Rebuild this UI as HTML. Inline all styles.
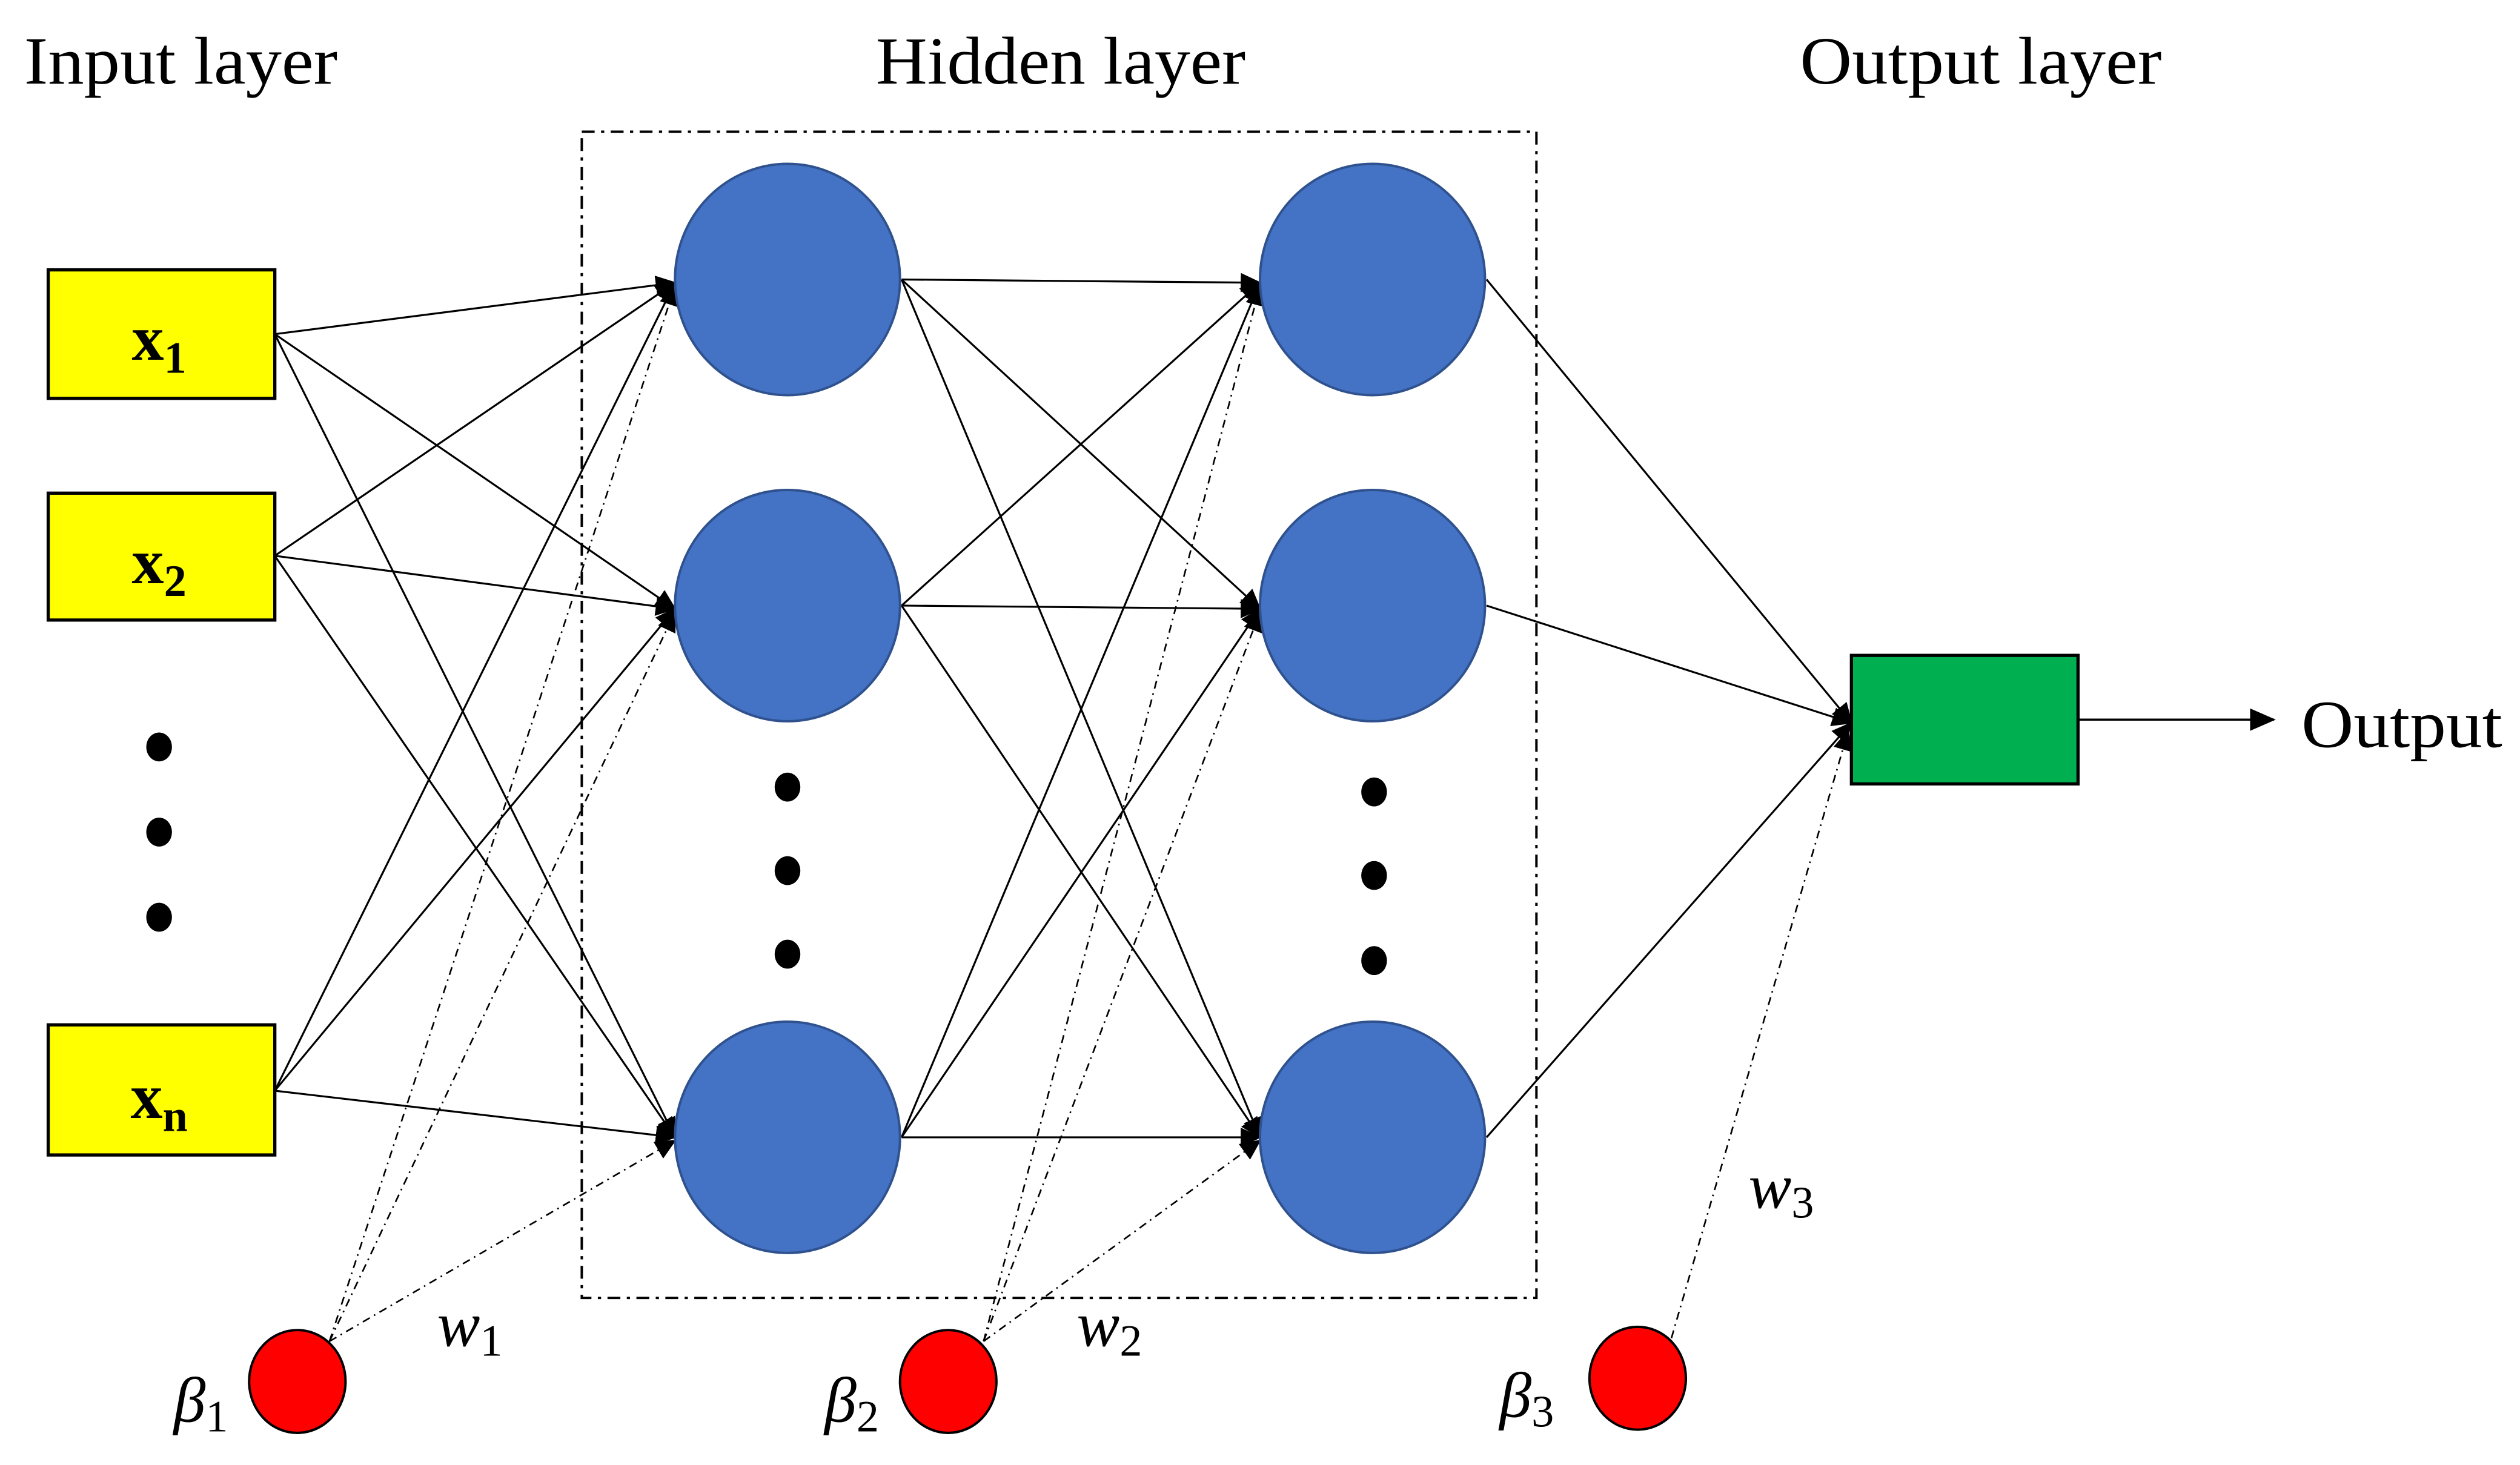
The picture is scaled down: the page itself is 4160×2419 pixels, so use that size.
<!DOCTYPE html>
<html><head><meta charset="utf-8"><style>
html,body{margin:0;padding:0;background:#fff;}
svg{display:block;}
text{font-family:"Liberation Serif",serif;}
</style></head><body>
<svg width="4160" height="2419" viewBox="0 0 1568 912" preserveAspectRatio="none" xmlns="http://www.w3.org/2000/svg">
<defs>
<marker id="a" markerWidth="13" markerHeight="12" refX="12" refY="6" orient="auto" markerUnits="userSpaceOnUse">
<path d="M0,0 L13,6 L0,12 z" fill="#000"/>
</marker>
<marker id="b" markerWidth="16" markerHeight="14" refX="15" refY="7" orient="auto" markerUnits="userSpaceOnUse">
<path d="M0,0 L16,7 L0,14 z" fill="#000"/>
</marker>
</defs>
<rect width="1568" height="912" fill="#fff"/>
<text x="15" y="52" font-size="42" textLength="195" lengthAdjust="spacingAndGlyphs">Input layer</text>
<text x="545" y="52" font-size="42" textLength="230" lengthAdjust="spacingAndGlyphs">Hidden layer</text>
<text x="1120" y="52" font-size="42" textLength="225" lengthAdjust="spacingAndGlyphs">Output layer</text>
<rect x="362" y="82" width="594" height="726" fill="none" stroke="#000" stroke-width="1.5" stroke-dasharray="8,4,2,4"/>
<g stroke="#000" stroke-width="1.2" fill="none" marker-end="url(#a)">
<line x1="171" y1="208" x2="420" y2="176"/>
<line x1="171" y1="208" x2="420" y2="379"/>
<line x1="171" y1="208" x2="420" y2="708"/>
<line x1="171" y1="346" x2="420" y2="176"/>
<line x1="171" y1="346" x2="420" y2="379"/>
<line x1="171" y1="346" x2="420" y2="708"/>
<line x1="171" y1="679" x2="420" y2="176"/>
<line x1="171" y1="679" x2="420" y2="379"/>
<line x1="171" y1="679" x2="420" y2="708"/>
<line x1="561" y1="174" x2="784" y2="176"/>
<line x1="561" y1="174" x2="784" y2="379"/>
<line x1="561" y1="174" x2="784" y2="708"/>
<line x1="561" y1="377" x2="784" y2="176"/>
<line x1="561" y1="377" x2="784" y2="379"/>
<line x1="561" y1="377" x2="784" y2="708"/>
<line x1="561" y1="708" x2="784" y2="176"/>
<line x1="561" y1="708" x2="784" y2="379"/>
<line x1="561" y1="708" x2="784" y2="708"/>
<line x1="925" y1="174" x2="1152" y2="450"/>
<line x1="925" y1="377" x2="1152" y2="450"/>
<line x1="925" y1="708" x2="1152" y2="450"/>
</g>
<g stroke="#000" stroke-width="1" fill="none" stroke-dasharray="5,3,1,3" marker-end="url(#a)">
<line x1="205" y1="835" x2="420" y2="178"/>
<line x1="205" y1="835" x2="420" y2="381"/>
<line x1="205" y1="835" x2="420" y2="710"/>
<line x1="612" y1="835" x2="784" y2="178"/>
<line x1="612" y1="835" x2="784" y2="381"/>
<line x1="612" y1="835" x2="784" y2="710"/>
<line x1="1040" y1="833" x2="1150" y2="455"/>
</g>
<line x1="1293" y1="448" x2="1415" y2="448" stroke="#000" stroke-width="1.3" marker-end="url(#b)"/>
<g fill="#ffff00" stroke="#000" stroke-width="2">
<rect x="30" y="168" width="141" height="80"/>
<rect x="30" y="307" width="141" height="79"/>
<rect x="30" y="638" width="141" height="81"/>
</g>
<g font-size="40" font-weight="bold" text-anchor="middle">
<text x="99" y="224">x<tspan font-size="28" dy="8">1</tspan></text>
<text x="99" y="363">x<tspan font-size="28" dy="8">2</tspan></text>
<text x="99" y="696">x<tspan font-size="28" dy="8">n</tspan></text>
</g>
<g fill="#000">
<ellipse cx="99" cy="465" rx="8" ry="9"/><ellipse cx="99" cy="518" rx="8" ry="9"/><ellipse cx="99" cy="571" rx="8" ry="9"/>
<ellipse cx="490" cy="490" rx="8" ry="9"/><ellipse cx="490" cy="542" rx="8" ry="9"/><ellipse cx="490" cy="594" rx="8" ry="9"/>
<ellipse cx="855" cy="493" rx="8" ry="9"/><ellipse cx="855" cy="545" rx="8" ry="9"/><ellipse cx="855" cy="598" rx="8" ry="9"/>
</g>
<g fill="#4472c4" stroke="#2f528f" stroke-width="1.5">
<ellipse cx="490" cy="174" rx="70" ry="72"/>
<ellipse cx="490" cy="377" rx="70" ry="72"/>
<ellipse cx="490" cy="708" rx="70" ry="72"/>
<ellipse cx="854" cy="174" rx="70" ry="72"/>
<ellipse cx="854" cy="377" rx="70" ry="72"/>
<ellipse cx="854" cy="708" rx="70" ry="72"/>
</g>
<rect x="1152" y="408" width="141" height="80" fill="#00b050" stroke="#000" stroke-width="2"/>
<text x="1432" y="465" font-size="42" textLength="125" lengthAdjust="spacingAndGlyphs">Output</text>
<g fill="#ff0000" stroke="#000" stroke-width="1.5">
<ellipse cx="185" cy="860" rx="30" ry="32"/>
<ellipse cx="590" cy="860" rx="30" ry="32"/>
<ellipse cx="1019" cy="858" rx="30" ry="32"/>
</g>
<g font-size="40" font-style="italic">
<text x="272" y="838">w<tspan font-size="28" font-style="normal" dy="6">1</tspan></text>
<text x="670" y="838">w<tspan font-size="28" font-style="normal" dy="6">2</tspan></text>
<text x="1088" y="752">w<tspan font-size="28" font-style="normal" dy="6">3</tspan></text>
<text x="108" y="885">β<tspan font-size="28" font-style="normal" dy="6">1</tspan></text>
<text x="513" y="885">β<tspan font-size="28" font-style="normal" dy="6">2</tspan></text>
<text x="933" y="882">β<tspan font-size="28" font-style="normal" dy="6">3</tspan></text>
</g>
</svg>
</body></html>
